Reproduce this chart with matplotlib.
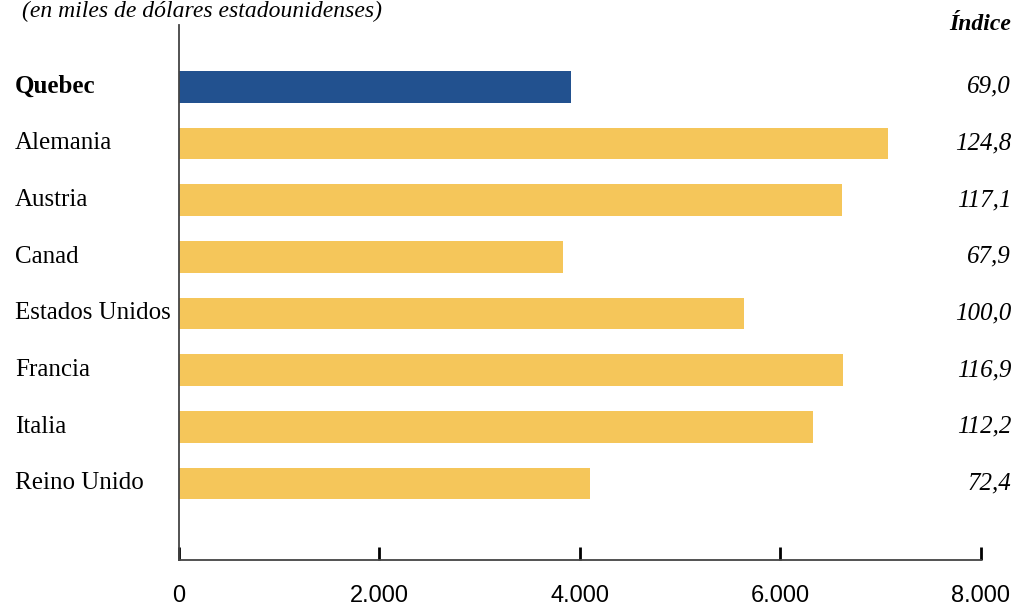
import matplotlib
matplotlib.use("Agg")
import matplotlib.pyplot as plt
from matplotlib.transforms import blended_transform_factory

# data (thousands of USD)
countries = ["Quebec", "Alemania", "Austria", "Canad", "Estados Unidos",
             "Francia", "Italia", "Reino Unido"]
values = [3910, 7070, 6610, 3830, 5635, 6620, 6320, 4100]
indices = ["69,0", "124,8", "117,1", "67,9", "100,0", "116,9", "112,2", "72,4"]
xticks = [0, 2000, 4000, 6000, 8000]
xticklabels = ["0", "2.000", "4.000", "6.000", "8.000"]

blue = "#22518F"
yellow = "#F5C65A"
colors = [blue] + [yellow] * (len(countries) - 1)

fig = plt.figure(figsize=(10.17, 6.09), dpi=100)
ax = fig.add_axes([0.176, 0.0805, 0.7886, 0.8785])

pos = list(range(len(countries)))
ax.barh(pos, values, height=0.56, color=colors)
ax.set_xlim(0, 8000)
ax.set_ylim(8.35, -1.09)

for s in ["top", "right"]:
    ax.spines[s].set_visible(False)
for s in ["left", "bottom"]:
    ax.spines[s].set_color("#444444")
    ax.spines[s].set_linewidth(1.3)

ax.set_yticks([])
ax.set_xticks(xticks)
ax.set_xticklabels(xticklabels, fontfamily="Liberation Sans", fontsize=17)
ax.tick_params(axis="x", direction="in", length=9.5, width=2, color="black", pad=18)

trans = blended_transform_factory(fig.transFigure, ax.transData)
for i, (c, idx) in enumerate(zip(countries, indices)):
    ax.text(15 / 1017, i, c, transform=trans, ha="left", va="center",
            family="Liberation Serif", fontsize=18,
            fontweight="bold" if i == 0 else "normal")
    ax.text(1011 / 1017, i, idx, transform=trans, ha="right", va="center",
            family="Liberation Serif", fontsize=18, style="italic")

fig.text(1011 / 1017, 1 - 25 / 609, "Índice", ha="right", va="center",
         family="Liberation Serif", fontsize=17, style="italic", fontweight="bold")
fig.text(22 / 1017, 0.999, "(en miles de dólares estadounidenses)",
         ha="left", va="top", family="Liberation Serif", fontsize=17, style="italic")

fig.savefig("out.png", dpi=100)
